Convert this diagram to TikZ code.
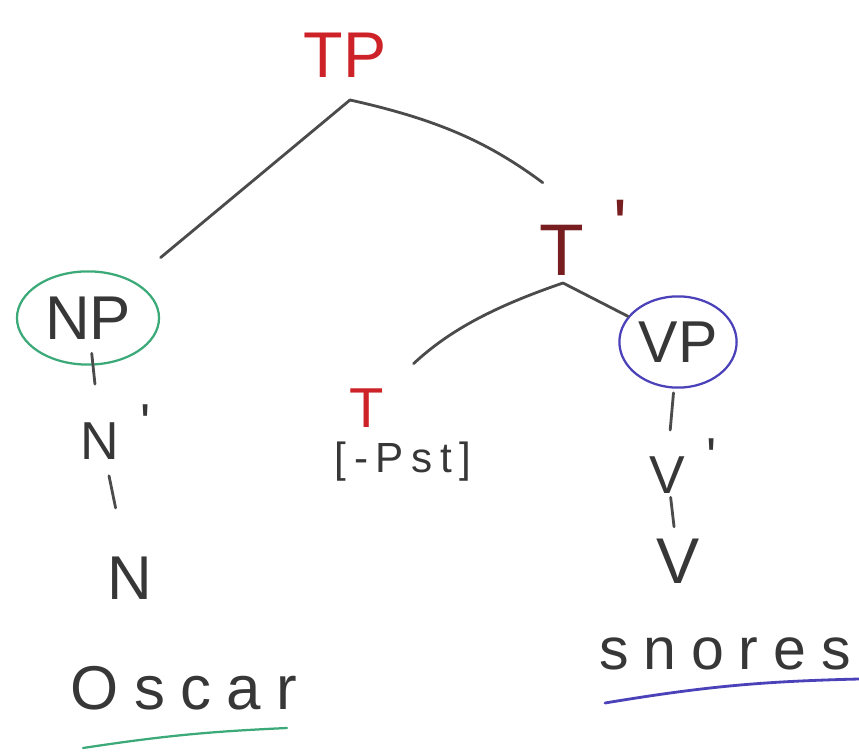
\documentclass[tikz,border=0pt]{standalone}
\usepackage{fontspec}
\setmainfont{Liberation Sans}
\usetikzlibrary{shapes.geometric,calc}
\definecolor{penred}{RGB}{205,35,40}
\definecolor{pendark}{RGB}{120,30,32}
\definecolor{penink}{RGB}{55,55,55}
\definecolor{pengreen}{RGB}{60,170,120}
\definecolor{penblue}{RGB}{75,65,185}
\newcommand{\hprime}{\rlap{\hspace{0.4em}\raisebox{0.35em}{\textquotesingle}}}

\begin{document}
\begin{tikzpicture}[x=0.025cm, y=-0.025cm,
    cat/.style={text=penink, inner sep=2pt},
    head/.style={text=penred, inner sep=2pt},
    branch/.style={draw=penink!90, line width=2pt, line cap=round},
    ring/.style={ellipse, line width=1.6pt, inner sep=0pt}]
    \useasboundingbox (0,0) rectangle (859,753);

    % Top of the tree
    \node[head, font={\fontsize{46}{50}\selectfont}] (tp) at (345,55) {TP};
    \coordinate (tpj) at (350,100);
    \node[head, text=pendark, font={\fontsize{52}{56}\selectfont}] (tbar) at (562,238) {T\hprime};
    \coordinate (tbarj) at (563,283);

    % Subject
    \node[ring, draw=pengreen, minimum width=3.55cm, minimum height=2.33cm,
      text=penink, font={\fontsize{44}{48}\selectfont}] (np) at (88,318) {NP};
    \node[cat, font={\fontsize{38}{42}\selectfont}] (nbar) at (100,432) {N\hprime};
    \node[cat, font={\fontsize{44}{48}\selectfont}] (n) at (130,578) {N};
    \node[cat, font={\fontsize{44}{48}\selectfont\addfontfeature{LetterSpace=25}}] (oscar) at (184,688) {Oscar};

    % Tense
    \node[head, font={\fontsize{40}{44}\selectfont}] (t) at (367,408) {T};
    \node[cat, font={\fontsize{30}{34}\selectfont\addfontfeature{LetterSpace=18}}] (tfeat) at (403,462) {[-Pst]};

    % Predicate
    \node[ring, draw=penblue, minimum width=2.93cm, minimum height=2.28cm,
      text=penink, font={\fontsize{42}{46}\selectfont}] (vp) at (678,342) {VP};
    \node[cat, font={\fontsize{38}{42}\selectfont}] (vbar) at (667,466) {V\hprime};
    \node[cat, font={\fontsize{46}{50}\selectfont}] (v) at (678,561) {V};
    \node[cat, font={\fontsize{42}{46}\selectfont\addfontfeature{LetterSpace=25}}] (snores) at (725,654) {snores};

    % Branches
    \draw[branch, shorten >=0.9cm] (tpj) -- (np);
    \draw[branch, shorten >=0.6cm] (tpj) to[bend left=12] (tbar.north);
    \draw[branch, shorten >=0.9cm] (tbarj) to[bend right=12] (t);
    \draw[branch] (tbarj) -- (vp);

    % Unary lines
    \draw[branch] ($(np)!0.31!(nbar)$) -- ($(np)!0.58!(nbar)$);
    \draw[branch] ($(nbar)!0.3!(n)$) -- ($(nbar)!0.52!(n)$);
    \draw[branch] ($(vp)!0.41!(vbar)$) -- ($(vp)!0.71!(vbar)$);
    \draw[branch] ($(vbar)!0.33!(v)$) -- ($(vbar)!0.64!(v)$);

    % Underlines
    \draw[pengreen, line width=1.6pt, line cap=round] (83,748) to[bend left=3] (287,728);
    \draw[penblue, line width=2pt, line cap=round] (605,703) to[bend left=4] (859,679);
\end{tikzpicture}
\end{document}
